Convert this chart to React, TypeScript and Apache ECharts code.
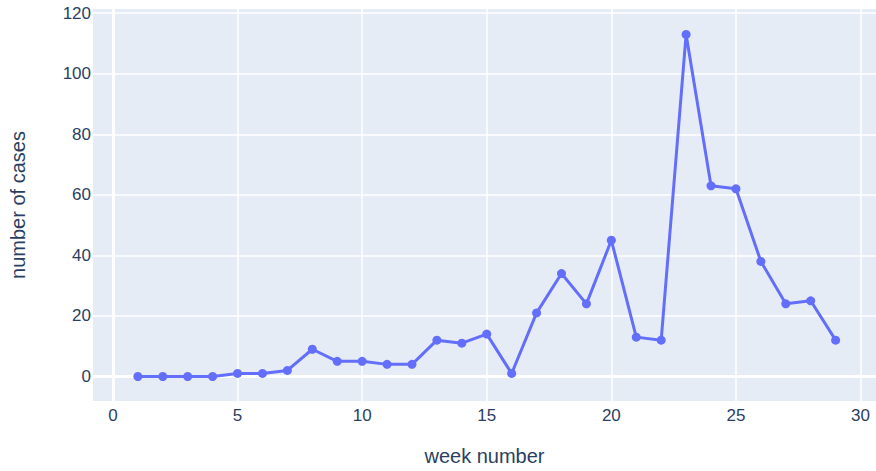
import React, { useEffect, useRef } from "react";
import * as echarts from "echarts";

const weeks = [1, 2, 3, 4, 5, 6, 7, 8, 9, 10, 11, 12, 13, 14, 15, 16, 17, 18, 19, 20, 21, 22, 23, 24, 25, 26, 27, 28, 29];
const cases = [0, 0, 0, 0, 1, 1, 2, 9, 5, 5, 4, 4, 12, 11, 14, 1, 21, 34, 24, 45, 13, 12, 113, 63, 62, 38, 24, 25, 12];
const xTicks = [0, 5, 10, 15, 20, 25, 30];
const yTicks = [0, 20, 40, 60, 80, 100, 120];

const FONT = "'Liberation Sans', Arial, sans-serif";
const TXT = "#2a3f5f";

export default function App() {
  const ref = useRef<HTMLDivElement>(null);
  useEffect(() => {
    if (!ref.current) return;
    const chart = echarts.init(ref.current, undefined, { renderer: "svg" });
    chart.setOption({
      animation: false,
      backgroundColor: "#ffffff",
      grid: {
        left: 92,
        right: 0,
        top: 9,
        bottom: 68,
        containLabel: false,
        show: true,
        backgroundColor: "#E5ECF6",
        borderWidth: 0,
      },
      xAxis: {
        type: "value",
        min: -0.8,
        max: 30.62,
        name: "week number",
        nameLocation: "middle",
        nameGap: 45,
        nameTextStyle: { color: TXT, fontSize: 20, fontFamily: FONT },
        axisLine: { show: false },
        axisTick: { show: false, customValues: xTicks },
        axisLabel: { customValues: xTicks, color: TXT, fontSize: 17, fontFamily: FONT, margin: 6 },
        splitLine: { show: true, lineStyle: { color: "#ffffff", width: 1.5 } },
      },
      yAxis: {
        type: "value",
        min: -8.1,
        max: 121.4,
        name: "number of cases",
        nameLocation: "middle",
        nameGap: 65,
        nameTextStyle: { color: TXT, fontSize: 20, fontFamily: FONT },
        axisLine: { show: false },
        axisTick: { show: false, customValues: yTicks },
        axisLabel: { customValues: yTicks, color: TXT, fontSize: 17, fontFamily: FONT, margin: 2 },
        splitLine: { show: true, lineStyle: { color: "#ffffff", width: 1.5 } },
        splitArea: { show: false },
      },
      series: [
        {
          type: "line",
          data: [],
          z: 1,
          silent: true,
          markLine: {
            z: 1,
            silent: true,
            symbol: "none",
            label: { show: false },
            lineStyle: { color: "#ffffff", width: 3, type: "solid" },
            data: [{ yAxis: 0 }, { xAxis: 0 }],
          },
        },
        {
          type: "line",
          z: 3,
          data: weeks.map((w, i) => [w, cases[i]]),
          symbol: "circle",
          symbolSize: 9,
          lineStyle: { color: "#636efa", width: 3 },
          itemStyle: { color: "#636efa" },
        },
      ],
    });
    return () => chart.dispose();
  }, []);
  return <div ref={ref} style={{ position: "absolute", left: 0, top: 0, width: 876, height: 471 }} />;
}
